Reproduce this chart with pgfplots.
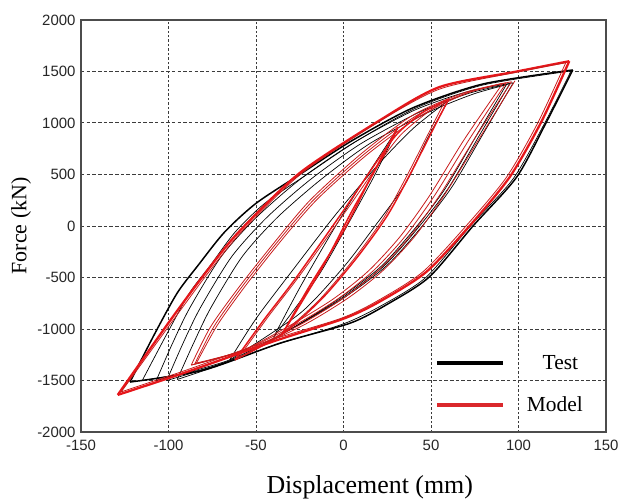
\documentclass[border=0pt]{standalone}
\usepackage{pgfplots}
\pgfplotsset{compat=1.18}
\usepackage{fontspec}
\setmainfont{Liberation Serif}
\newfontfamily\tickfont{Liberation Sans}
\definecolor{mred}{RGB}{230,22,26}
\definecolor{tred}{RGB}{200,28,28}
\definecolor{lred}{RGB}{218,40,44}
\definecolor{gridc}{RGB}{60,60,60}
\pgfplotsset{
  ktest/.style={black, line width=0.7pt, smooth, tension=0.45, forget plot},
  kouter/.style={black, line width=1.5pt, smooth, tension=0.45, forget plot},
  rthin/.style={tred, line width=0.8pt, smooth, tension=0.45, forget plot},
  rmid/.style={mred, line width=1.5pt, smooth, tension=0.45, forget plot},
  rthick/.style={mred, line width=2.3pt, smooth, tension=0.45, forget plot},
}
\begin{document}
\begin{tikzpicture}
\begin{axis}[
  width=525bp, height=412bp, scale only axis,
  xmin=-150, xmax=150, ymin=-2000, ymax=2000,
  xtick={-150,-100,...,150}, ytick={-2000,-1500,...,2000},
  grid=major,
  every axis x grid/.style={gridc, line width=0.6pt, dash pattern=on 2.5pt off 2pt},
  every axis y grid/.style={gridc, line width=1pt, dash pattern=on 3.5pt off 2.2pt},
  axis line style={black!70, line width=1.2pt},
  major tick length=0pt,
  /pgf/number format/assume math mode=true,
  /pgf/number format/1000 sep={},
  tick label style={font=\tickfont\fontsize{15}{15}\selectfont, text=black!85},
  yticklabel style={xshift=-2bp},
  xticklabel style={yshift=-5bp},
  xlabel={Displacement (mm)}, ylabel={Force (kN)},
  xlabel style={font=\fontsize{26}{30}\selectfont, at={(axis description cs:0.55,-0.135)}, anchor=center},
  ylabel style={font=\fontsize{22}{26}\selectfont, at={(axis description cs:-0.114,0.5)}, anchor=center},
  legend style={draw=none, fill=none, at={(rel axis cs:0.67,0.197)}, anchor=north west,
    font=\fontsize{21.5}{24}\selectfont, row sep=22bp, inner sep=2bp},
  legend cell align=center,
  legend image code/.code={\draw[#1] (0bp,0bp) -- (66bp,0bp);},
]
\coordinate (bl) at (rel axis cs:0,0);
\coordinate (tr) at (rel axis cs:1,1);
\addlegendimage{black, line width=4pt}
\addlegendentry{\hspace{31bp}Test}
\addlegendimage{lred, line width=4pt}
\addlegendentry{\hspace{20bp}Model}

% ---- Test (black) ----
\addplot[kouter] coordinates {(-122,-1515) (-108,-1050) (-95,-650) (-83,-380) (-68,-60) (-50,220) (-25,500) (5,830) (40,1150) (80,1380) (131,1515)};
\addplot[kouter] coordinates {(131,1515) (116,1010) (99,476) (74,0) (49,-495) (25,-760) (4,-942) (-36,-1136) (-80,-1400) (-122,-1515)};
\addplot[ktest] coordinates {(-115,-1500) (-101,-1050) (-88,-650) (-76,-380) (-62,-60) (-45,220) (-21,500) (8,830) (42,1150) (80,1370) (130,1505)};
\addplot[ktest] coordinates {(130,1505) (115,1000) (97,460) (72,-10) (47,-500) (22,-770) (0,-950) (-38,-1150) (-80,-1390) (-115,-1500)};
\addplot[ktest] coordinates {(-107,-1500) (-98,-1150) (-88,-800) (-70,-300) (-50,80) (-25,450) (5,800) (40,1120) (70,1300) (97,1390)};
\addplot[ktest] coordinates {(97,1390) (80,900) (62,380) (45,0) (25,-380) (0,-700) (-30,-1000) (-65,-1300) (-107,-1500)};
\addplot[ktest] coordinates {(-101,-1500) (-92,-1150) (-82,-800) (-64,-300) (-44,80) (-19,450) (10,800) (44,1110) (72,1290) (95,1380)};
\addplot[ktest] coordinates {(95,1380) (78,890) (60,370) (43,-10) (23,-390) (-2,-710) (-30,-1000) (-62,-1290) (-101,-1500)};
\addplot[ktest] coordinates {(-95,-1490) (-86,-1150) (-76,-800) (-58,-300) (-38,80) (-13,450) (15,800) (48,1100) (74,1280) (93,1370)};
\addplot[ktest] coordinates {(93,1370) (76,880) (58,360) (41,-20) (21,-400) (-4,-720) (-30,-1000) (-60,-1280) (-95,-1490)};
\addplot[ktest] coordinates {(-65,-1300) (-50,-900) (-30,-450) (-5,100) (20,600) (40,950) (60,1220)};
\addplot[ktest] coordinates {(60,1220) (48,850) (35,400) (18,0) (0,-400) (-25,-850) (-65,-1300)};
\addplot[ktest] coordinates {(-40,-1080) (-25,-600) (-8,-100) (10,400) (31,950)};
\addplot[ktest] coordinates {(31,950) (18,500) (2,0) (-15,-500) (-40,-1080)};

% ---- Model (red) ----
\addplot[rthin] coordinates {(-87,-1350) (-76,-980) (-60,-600) (-40,-170) (-19,252) (10,700) (40,1080) (70,1300) (96,1400)};
\addplot[rthin] coordinates {(96,1400) (75,850) (55,300) (38,-100) (20,-430) (0,-700) (-25,-960) (-55,-1200) (-87,-1350)};
\addplot[rthin] coordinates {(-85,-1340) (-74,-975) (-58,-590) (-38,-160) (-17,255) (12,700) (42,1075) (70,1290) (93,1390)};
\addplot[rthin] coordinates {(93,1390) (72,845) (52,295) (35,-105) (17,-435) (-3,-705) (-28,-965) (-57,-1205) (-85,-1340)};
\addplot[rthin] coordinates {(-84,-1330) (-72,-960) (-56,-580) (-36,-150) (-15,260) (14,700) (44,1070) (70,1285) (91,1385)};
\addplot[rthin] coordinates {(91,1385) (69,840) (49,290) (32,-110) (14,-440) (-6,-710) (-31,-970) (-58,-1210) (-84,-1330)};
\addplot[rthin] coordinates {(98,1410) (78,860) (58,310) (41,-95) (23,-425) (3,-695) (-22,-955) (-53,-1195) (-87,-1350)};
\addplot[rmid] coordinates {(-62,-1300) (-45,-900) (-27,-500) (0,150) (20,650) (31,900) (45,1100) (60,1230)};
\addplot[rmid] coordinates {(60,1230) (50,900) (38,500) (25,100) (8,-300) (-12,-700) (-35,-1050) (-62,-1300)};
\addplot[rthin] coordinates {(-60,-1280) (-43,-880) (-25,-480) (2,160) (22,650) (33,890) (47,1090) (58,1215)};
\addplot[rthin] coordinates {(58,1215) (48,880) (36,480) (23,80) (6,-320) (-14,-720) (-36,-1050) (-60,-1280)};
\addplot[rmid] coordinates {(-35,-1050) (-20,-600) (0,-50) (15,450) (31,960)};
\addplot[rmid] coordinates {(31,960) (20,600) (5,150) (-12,-400) (-35,-1050)};
\addplot[rthick] coordinates {(-129,-1640) (-100,-940) (-80,-480) (-60,-60) (-25,515) (21,1029) (55,1350) (99,1500) (129,1600)};
\addplot[rthick] coordinates {(129,1600) (113,1010) (95,476) (72,0) (47,-450) (20,-740) (0,-900) (-40,-1120) (-90,-1420) (-129,-1640)};
\addplot[rthin] coordinates {(-127,-1610) (-98,-930) (-78,-470) (-58,-50) (-24,510) (20,1010) (55,1330) (98,1490) (127,1585)};
\addplot[rthin] coordinates {(127,1585) (111,1000) (93,470) (70,0) (45,-450) (18,-740) (-2,-900) (-42,-1110) (-90,-1400) (-127,-1610)};
\end{axis}
\pgfresetboundingbox
\useasboundingbox ([shift={(-81bp,-70bp)}]bl) rectangle ([shift={(13bp,20bp)}]tr);
\end{tikzpicture}
\end{document}
